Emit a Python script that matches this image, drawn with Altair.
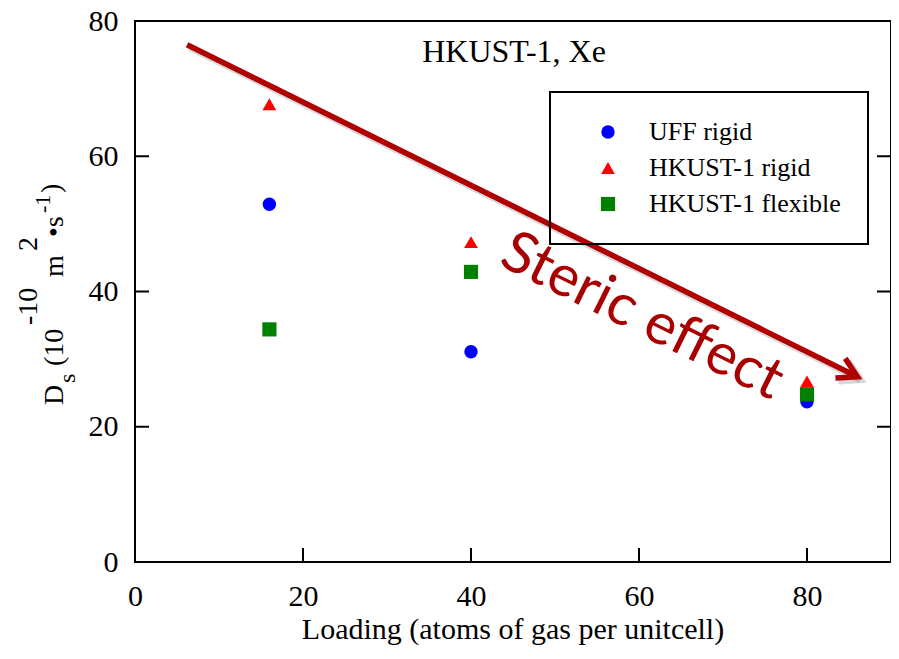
import altair as alt
import pandas as pd

# ---- data ----
loading = [16, 40, 80]
uff_rigid = [52.9, 31.1, 23.7]
hkust_rigid = [67.7, 47.3, 26.7]
hkust_flexible = [34.4, 42.9, 24.8]
series_names = ["UFF rigid", "HKUST-1 rigid", "HKUST-1 flexible"]
series_values = [uff_rigid, hkust_rigid, hkust_flexible]
series_colors = ["#0000FF", "#FF0000", "#008000"]
series_shapes = ["circle", "triangle-up", "square"]
series_sizes = [180, 200, 160]
x_ticks = [0, 20, 40, 60, 80]
y_ticks = [0, 20, 40, 60, 80]
inner_x_ticks = [20, 40, 60, 80]
inner_y_ticks = [20, 40, 60]
x_domain = [0, 90]
y_domain = [0, 80]
arrow_start = [6.2, 76.5]
arrow_end = [86.0, 27.4]
title_text = "HKUST-1, Xe"
x_title = "Loading (atoms of gas per unitcell)"
annot_text = "Steric effect"

SERIF = "Liberation Serif"
ARROW = "#B00000"

rows = []
for name, vals in zip(series_names, series_values):
    for xv, yv in zip(loading, vals):
        rows.append({"loading": xv, "ds": yv, "series": name})
df = pd.DataFrame(rows)


def X(field="loading"):
    return alt.X(f"{field}:Q", scale=alt.Scale(domain=x_domain, nice=False, zero=False),
                 axis=alt.Axis(values=x_ticks, title=None, labelPadding=19, labelFlush=False))


def Y(field="ds"):
    return alt.Y(f"{field}:Q", scale=alt.Scale(domain=y_domain, nice=False, zero=False),
                 axis=alt.Axis(values=y_ticks, title=None, labelPadding=17, labelFlush=False))


legend = alt.Legend(title=None, orient="none", legendX=415, legendY=71,
                    strokeColor="black", padding=27, symbolOffset=18, labelOffset=28,
                    labelFont=SERIF, labelFontSize=26, labelColor="black", labelLimit=400,
                    symbolSize=170, rowPadding=10, symbolStrokeWidth=0)

points = alt.Chart(df).mark_point(filled=True, opacity=1, strokeWidth=0).encode(
    x=X(), y=Y(),
    color=alt.Color("series:N", scale=alt.Scale(domain=series_names, range=series_colors), legend=legend),
    shape=alt.Shape("series:N", scale=alt.Scale(domain=series_names, range=series_shapes), legend=legend),
    size=alt.Size("series:N", scale=alt.Scale(domain=series_names, range=series_sizes), legend=None),
)

# inward ticks
bt = pd.DataFrame({"loading": inner_x_ticks, "ds": [y_domain[0]] * len(inner_x_ticks)})
lt = pd.DataFrame({"loading": [x_domain[0]] * len(inner_y_ticks), "ds": inner_y_ticks})
rt = pd.DataFrame({"loading": [x_domain[1]] * len(inner_y_ticks), "ds": inner_y_ticks})
bottom_ticks = alt.Chart(bt).mark_tick(orient="vertical", size=14, thickness=2, color="black", yOffset=-7, opacity=1).encode(x=X(), y=Y())
left_ticks = alt.Chart(lt).mark_tick(orient="horizontal", size=14, thickness=2, color="black", xOffset=7, opacity=1).encode(x=X(), y=Y())
right_ticks = alt.Chart(rt).mark_tick(orient="horizontal", size=14, thickness=2, color="black", xOffset=-7, opacity=1).encode(x=X(), y=Y())

# arrow
adf = pd.DataFrame({"loading": [arrow_start[0]], "ds": [arrow_start[1]],
                    "loading2": [arrow_end[0]], "ds2": [arrow_end[1]]})
hdf = pd.DataFrame({"loading": [arrow_end[0]], "ds": [arrow_end[1]]})
chevron = "M-0.866,-0.5L0,0L-0.866,0.5"
arrow_shadow = alt.Chart(adf).mark_rule(color="black", opacity=0.15, strokeWidth=7,
                                        xOffset=3, yOffset=3, x2Offset=3, y2Offset=3).encode(
    x=X(), y=Y(), x2="loading2:Q", y2="ds2:Q")
arrow_line = alt.Chart(adf).mark_rule(color=ARROW, strokeWidth=5.5).encode(
    x=X(), y=Y(), x2="loading2:Q", y2="ds2:Q")
head_shadow = alt.Chart(hdf).mark_point(shape=chevron, filled=False, color="black", opacity=0.15,
                                        strokeWidth=7, size=1936, angle=26.4, xOffset=3, yOffset=3).encode(x=X(), y=Y())
head = alt.Chart(hdf).mark_point(shape=chevron, filled=False, color=ARROW, opacity=1,
                                 strokeWidth=5.5, size=1936, angle=26.4).encode(x=X(), y=Y())


def label(txt, x, y, **kw):
    return alt.Chart(pd.DataFrame({"t": [txt]})).mark_text(**kw).encode(
        text="t:N", x=alt.value(x), y=alt.value(y))


title = label(title_text, 379, 41, font=SERIF, fontSize=32, color="black", align="center", baseline="alphabetic")
xtitle = label(x_title, 378, 618, font=SERIF, fontSize=30, color="black", align="center", baseline="alphabetic")
steric = label(annot_text, 507, 296, font="Lato", fontSize=58, color="#A80000", align="center",
               baseline="middle", angle=26.4)

# y title pieces: (text, x, y, fontSize)
ytitle_parts = [
    ("D", -72, 384, 28),
    ("s", -60, 362, 24),
    ("(10", -72, 345, 28),
    ("-10", -98, 304, 28),
    ("m", -72, 256, 28),
    ("2", -98, 230, 28),
    ("\u2022s", -72, 216, 28),
    ("-1", -85, 192, 22),
    (")", -75, 172, 28),
]
ytitle = [label(t, x, y, font=SERIF, fontSize=fs, color="black", align="left",
                baseline="alphabetic", angle=270) for t, x, y, fs in ytitle_parts]

chart = alt.layer(
    points, bottom_ticks, left_ticks, right_ticks,
    arrow_shadow, head_shadow, arrow_line, head,
    title, xtitle, steric, *ytitle
).properties(
    width=756, height=541,
    padding={"left": 127, "top": 13, "right": 0, "bottom": 86},
    autosize=alt.AutoSizeParams(type="none"),
).configure_view(
    stroke="black", strokeWidth=2
).configure_axis(
    grid=False, ticks=False, domain=False,
    labelFont=SERIF, labelFontSize=30, labelColor="black",
).configure_legend(
    strokeWidth=2
)

chart.save("out.html", embed_options={"renderer": "svg", "actions": False})
